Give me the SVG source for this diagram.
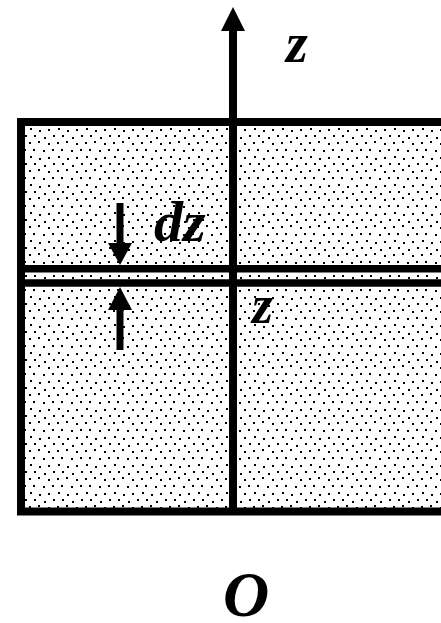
<svg xmlns="http://www.w3.org/2000/svg" width="441" height="623" viewBox="0 0 441 623">
<defs>
<pattern id="dots" x="0" y="0" width="28" height="28" patternUnits="userSpaceOnUse">
<rect width="28" height="28" fill="#fff"/>
<g fill="#000">
<rect x="1" y="2" width="2" height="2"/>
<rect x="10" y="1" width="2" height="2"/>
<rect x="20" y="3" width="2" height="2"/>
<rect x="5" y="9" width="2" height="2"/>
<rect x="15" y="10" width="2" height="2"/>
<rect x="24" y="9" width="2" height="2"/>
<rect x="2" y="16" width="2" height="2"/>
<rect x="11" y="18" width="2" height="2"/>
<rect x="20" y="17" width="2" height="2"/>
<rect x="6" y="23" width="2" height="2"/>
<rect x="16" y="25" width="2" height="2"/>
<rect x="25" y="23" width="2" height="2"/>
</g>
</pattern>
</defs>
<style>
.ln{stroke:#000;stroke-width:8;fill:none}
.ar{stroke:#000;stroke-width:7;fill:none}
.lbl{font-family:"Liberation Serif","Times New Roman",serif;font-style:italic;font-weight:bold;fill:#000}
</style>
<g id="slab">
<rect x="21" y="122" width="430" height="389.5" fill="url(#dots)"/>
<path class="ln" d="M21,511.5 L21,122 L441,122 M17,511.5 L441,511.5"/>
</g>
<g id="layer">
<line class="ln" x1="21" y1="268.8" x2="441" y2="268.8" style="stroke-width:7.5"/>
<line class="ln" x1="21" y1="283" x2="441" y2="283" style="stroke-width:7.5"/>
</g>
<g id="connectors">
<line class="ln" x1="233" y1="515" x2="233" y2="30"/>
<path d="M221,31 L233,7 L245,31 Z" fill="#000"/>
<line class="ar" x1="120" y1="203" x2="120" y2="245"/>
<path d="M108,243 L132,243 L120,265 Z" fill="#000"/>
<line class="ar" x1="120" y1="350" x2="120" y2="308"/>
<path d="M108,310 L132,310 L120,287 Z" fill="#000"/>
</g>
<g id="labels">
<text class="lbl" x="286" y="62" font-size="56">z</text>
<text class="lbl" x="154" y="241" font-size="58">dz</text>
<text class="lbl" x="252" y="323" font-size="54">z</text>
<text class="lbl" x="223" y="616" font-size="64">O</text>
</g>
</svg>
